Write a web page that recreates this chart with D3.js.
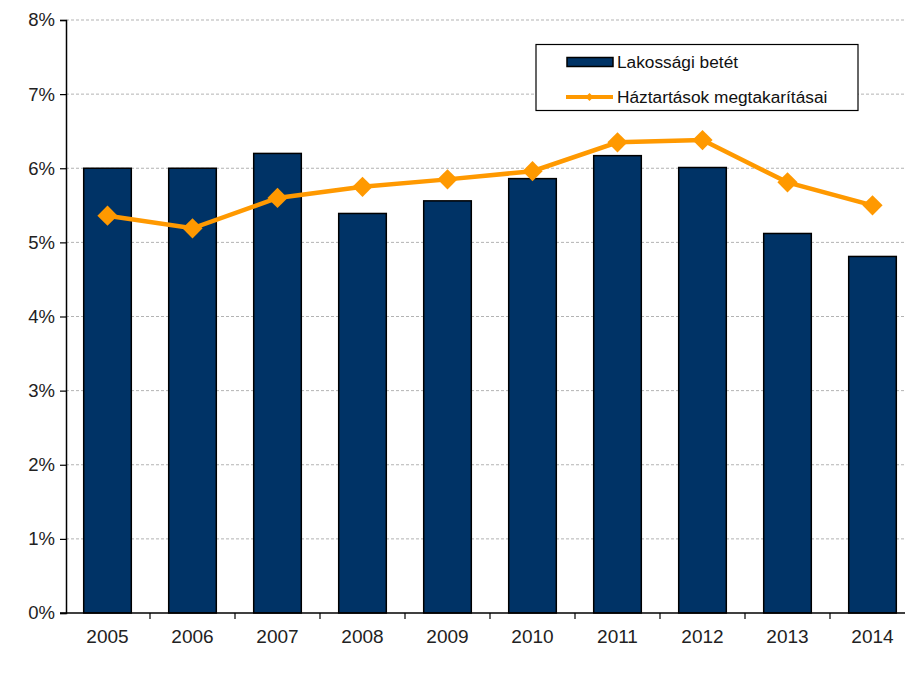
<!DOCTYPE html>
<html>
<head>
<meta charset="utf-8">
<script src="https://cdn.jsdelivr.net/npm/d3@7"></script>
<style>
    body { margin: 0; background: #fff; }
    svg { font-family: "Liberation Sans", Arial, sans-serif; }
</style>
</head>
<body>
<script>
var years = ["2005", "2006", "2007", "2008", "2009", "2010", "2011", "2012", "2013", "2014"];
var deposits = [6.0, 6.0, 6.2, 5.39, 5.56, 5.86, 6.17, 6.01, 5.12, 4.81];
var savings = [5.36, 5.19, 5.6, 5.75, 5.85, 5.96, 6.35, 6.38, 5.81, 5.5];
var yTicks = [0, 1, 2, 3, 4, 5, 6, 7, 8];
var seriesNames = ["Lakossági betét", "Háztartások megtakarításai"];

function init() {
    var w = 905;
    var h = 683;

    var svg = d3.select("body")
        .append("svg")
        .attr("width", w)
        .attr("height", h);

    var x = d3.scaleBand()
        .domain(years)
        .range([65, 915])
        .paddingInner(0.44)
        .paddingOuter(0.22);

    var y = d3.scaleLinear()
        .domain([0, 8])
        .range([613, 20]);

    // gridlines
    svg.selectAll("line.grid")
        .data(yTicks.slice(1))
        .enter()
        .append("line")
        .attr("x1", 66)
        .attr("x2", w)
        .attr("y1", function (d) { return y(d); })
        .attr("y2", function (d) { return y(d); })
        .attr("stroke", "#b3b3b3")
        .attr("stroke-width", 1)
        .attr("stroke-dasharray", "3,2");

    // bars
    svg.selectAll("rect.bar")
        .data(deposits)
        .enter()
        .append("rect")
        .attr("x", function (d, i) { return x(years[i]); })
        .attr("width", x.bandwidth())
        .attr("y", function (d) { return y(d); })
        .attr("height", function (d) { return y(0) - y(d); })
        .attr("fill", "#003366")
        .attr("stroke", "#000")
        .attr("stroke-width", 1.5);

    // y axis
    var yAxis = d3.axisLeft(y)
        .tickValues(yTicks)
        .tickSize(6)
        .tickFormat(function (d) { return d + "%"; });
    var gy = svg.append("g")
        .attr("transform", "translate(66,0)")
        .call(yAxis);
    gy.select(".domain").attr("stroke", "#000").attr("stroke-width", 1.5);
    gy.selectAll(".tick line").attr("stroke", "#000").attr("stroke-width", 1.2);
    gy.selectAll(".tick text")
        .attr("font-size", 18.5)
        .attr("fill", "#222")
        .attr("x", -11)
        .style("font-family", "'Liberation Sans', Arial, sans-serif");

    // x axis
    var gx = svg.append("g")
        .attr("transform", "translate(0," + y(0) + ")");
    gx.append("line")
        .attr("x1", 60)
        .attr("x2", w)
        .attr("stroke", "#000")
        .attr("stroke-width", 1.5);
    gx.selectAll("line.tk")
        .data(years.slice(1))
        .enter()
        .append("line")
        .attr("x1", function (d) { return x(d) - x.step() * x.paddingInner() / 2; })
        .attr("x2", function (d) { return x(d) - x.step() * x.paddingInner() / 2; })
        .attr("y1", 0)
        .attr("y2", 6)
        .attr("stroke", "#000")
        .attr("stroke-width", 1.2);
    gx.selectAll("text")
        .data(years)
        .enter()
        .append("text")
        .attr("x", function (d) { return x(d) + x.bandwidth() / 2; })
        .attr("y", 30)
        .attr("text-anchor", "middle")
        .attr("font-size", 19)
        .attr("fill", "#222")
        .text(function (d) { return d; });

    // line
    var cx = function (d, i) { return x(years[i]) + x.bandwidth() / 2; };
    var line = d3.line()
        .x(cx)
        .y(function (d) { return y(d); });
    svg.append("path")
        .datum(savings)
        .attr("d", line)
        .attr("fill", "none")
        .attr("stroke", "#ff9900")
        .attr("stroke-width", 4.5);

    var diamond = d3.symbol().type(d3.symbolDiamond2).size(260);
    svg.selectAll("path.pt")
        .data(savings)
        .enter()
        .append("path")
        .attr("d", diamond)
        .attr("transform", function (d, i) {
            return "translate(" + cx(d, i) + "," + y(d) + ")";
        })
        .attr("fill", "#ff9900");

    // legend
    var lg = svg.append("g");
    lg.append("rect")
        .attr("x", 536)
        .attr("y", 44.5)
        .attr("width", 322)
        .attr("height", 66)
        .attr("fill", "#fff")
        .attr("stroke", "#000")
        .attr("stroke-width", 1.2);
    lg.append("rect")
        .attr("x", 567)
        .attr("y", 57.5)
        .attr("width", 46)
        .attr("height", 9)
        .attr("fill", "#003366")
        .attr("stroke", "#000")
        .attr("stroke-width", 1.5);
    lg.append("line")
        .attr("x1", 566)
        .attr("x2", 613)
        .attr("y1", 97)
        .attr("y2", 97)
        .attr("stroke", "#ff9900")
        .attr("stroke-width", 4);
    lg.append("path")
        .attr("d", d3.symbol().type(d3.symbolDiamond2).size(40))
        .attr("transform", "translate(589.5,97)")
        .attr("fill", "#ff9900");
    lg.selectAll("text")
        .data(seriesNames)
        .enter()
        .append("text")
        .attr("x", 617)
        .attr("y", function (d, i) { return 68 + i * 35; })
        .attr("font-size", 17.3)
        .attr("fill", "#111")
        .text(function (d) { return d; });
}

window.onload = init;
</script>
</body>
</html>
